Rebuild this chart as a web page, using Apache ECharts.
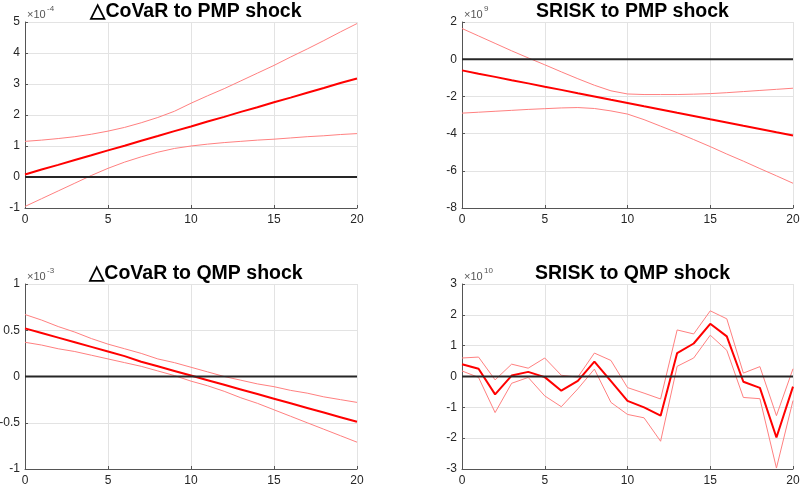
<!DOCTYPE html>
<html>
<head>
<meta charset="utf-8">
<script src="https://cdn.jsdelivr.net/npm/echarts@6/dist/echarts.min.js"></script>
<style>
  html, body { margin: 0; padding: 0; background: #fff; }
  #eCharts { width: 800px; height: 487px; }
</style>
</head>
<body>
<div id="eCharts"></div>
<script>
// horizons (x axis)
var horizons = [0,1,2,3,4,5,6,7,8,9,10,11,12,13,14,15,16,17,18,19,20];

// ΔCoVaR to PMP shock, x1e-4
var covarPmpMean  = [0.08,0.24,0.39,0.55,0.70,0.86,1.01,1.17,1.32,1.48,1.63,1.79,1.94,2.10,2.25,2.41,2.56,2.72,2.87,3.03,3.18];
var covarPmpUpper = [1.15,1.19,1.24,1.30,1.38,1.48,1.60,1.75,1.92,2.12,2.38,2.62,2.85,3.10,3.35,3.60,3.87,4.13,4.40,4.68,4.95];
var covarPmpLower = [-0.95,-0.70,-0.45,-0.20,0.05,0.28,0.48,0.65,0.80,0.92,1.00,1.06,1.11,1.15,1.19,1.22,1.26,1.30,1.33,1.37,1.40];

// SRISK to PMP shock, x1e9
var sriskPmpMean  = [-0.60,-0.78,-0.95,-1.13,-1.30,-1.48,-1.65,-1.83,-2.00,-2.18,-2.35,-2.53,-2.70,-2.88,-3.05,-3.23,-3.40,-3.58,-3.75,-3.93,-4.10];
var sriskPmpUpper = [1.65,1.25,0.85,0.45,0.07,-0.30,-0.68,-1.05,-1.40,-1.70,-1.87,-1.90,-1.90,-1.90,-1.88,-1.85,-1.80,-1.74,-1.68,-1.62,-1.56];
var sriskPmpLower = [-2.90,-2.85,-2.80,-2.75,-2.70,-2.66,-2.62,-2.60,-2.65,-2.78,-2.95,-3.25,-3.60,-3.95,-4.32,-4.70,-5.10,-5.48,-5.88,-6.27,-6.67];

// ΔCoVaR to QMP shock, x1e-3
var covarQmpMean  = [0.52,0.47,0.42,0.37,0.32,0.27,0.22,0.16,0.11,0.06,0.01,-0.04,-0.09,-0.14,-0.19,-0.24,-0.29,-0.34,-0.39,-0.44,-0.49];
var covarQmpUpper = [0.67,0.61,0.54,0.48,0.41,0.35,0.30,0.25,0.19,0.15,0.10,0.05,0.00,-0.04,-0.08,-0.11,-0.15,-0.18,-0.22,-0.25,-0.28];
var covarQmpLower = [0.37,0.34,0.30,0.27,0.23,0.19,0.15,0.11,0.06,0.01,-0.05,-0.10,-0.16,-0.23,-0.29,-0.36,-0.43,-0.50,-0.57,-0.64,-0.71];

// SRISK to QMP shock, x1e10
var sriskQmpMean  = [0.40,0.25,-0.58,0.03,0.15,-0.02,-0.46,-0.14,0.48,-0.15,-0.79,-1.00,-1.27,0.76,1.07,1.71,1.30,-0.17,-0.37,-1.98,-0.33];
var sriskQmpUpper = [0.60,0.63,-0.11,0.40,0.27,0.60,0.04,-0.02,0.76,0.52,-0.36,-0.54,-0.73,1.51,1.38,2.13,1.87,0.11,0.32,-1.27,0.25];
var sriskQmpLower = [0.18,-0.03,-1.17,-0.22,-0.03,-0.63,-0.98,-0.40,0.24,-0.84,-1.23,-1.34,-2.10,0.33,0.60,1.34,0.85,-0.68,-0.72,-2.97,-0.78];

var titles = ['△CoVaR to PMP shock', 'SRISK to PMP shock', '△CoVaR to QMP shock', 'SRISK to QMP shock'];
var exponents = ['-4', '9', '-3', '10'];
var yRanges = [[-1, 5, 1], [-8, 2, 2], [-1, 1, 0.5], [-3, 3, 1]];

var panels = [
    {mean: covarPmpMean, upper: covarPmpUpper, lower: covarPmpLower},
    {mean: sriskPmpMean, upper: sriskPmpUpper, lower: sriskPmpLower},
    {mean: covarQmpMean, upper: covarQmpUpper, lower: covarQmpLower},
    {mean: sriskQmpMean, upper: sriskQmpUpper, lower: sriskQmpLower}
];

var gridPos = [
    {left: 25, top: 22, width: 332, height: 186},
    {left: 462, top: 22, width: 331, height: 186},
    {left: 25, top: 284, width: 332, height: 185},
    {left: 462, top: 284, width: 331, height: 185}
];

var fontFam = 'Liberation Sans, Arial, sans-serif';
var textColor = '#262626';

function pairs(vals) {
    var out = [];
    for (var i = 0; i < horizons.length; i++) {
        out.push([horizons[i], vals[i]]);
    }
    return out;
}

var grids = [], xAxes = [], yAxes = [], series = [], titleList = [], graphics = [];

for (var k = 0; k < 4; k++) {
    var g = gridPos[k];
    grids.push({left: g.left, top: g.top, width: g.width, height: g.height,
                containLabel: false, outerBoundsMode: 'none'});

    xAxes.push({
        type: 'value', gridIndex: k, min: 0, max: 20, interval: 5,
        axisLine: {show: true, onZero: false, lineStyle: {color: '#555', width: 1}},
        axisTick: {show: true, inside: true, length: 3, lineStyle: {color: '#555'}},
        axisLabel: {color: textColor, fontSize: 12, fontFamily: fontFam, margin: 6},
        splitLine: {show: true, lineStyle: {color: '#e3e3e3', width: 1}}
    });
    yAxes.push({
        type: 'value', gridIndex: k, min: yRanges[k][0], max: yRanges[k][1], interval: yRanges[k][2],
        axisLine: {show: true, onZero: false, lineStyle: {color: '#555', width: 1}},
        axisTick: {show: true, inside: true, length: 3, lineStyle: {color: '#555'}},
        axisLabel: {color: textColor, fontSize: 12, fontFamily: fontFam, margin: 5},
        splitLine: {show: true, lineStyle: {color: '#e3e3e3', width: 1}}
    });

    var p = panels[k];
    series.push({
        type: 'line', xAxisIndex: k, yAxisIndex: k, data: pairs(p.upper),
        symbol: 'none', lineStyle: {color: '#ff8080', width: 1}, z: 2, silent: true
    });
    series.push({
        type: 'line', xAxisIndex: k, yAxisIndex: k, data: pairs(p.lower),
        symbol: 'none', lineStyle: {color: '#ff8080', width: 1}, z: 2, silent: true
    });
    series.push({
        type: 'line', xAxisIndex: k, yAxisIndex: k, data: pairs(p.mean),
        symbol: 'none', lineStyle: {color: '#ff0000', width: 2}, z: 3, silent: true
    });
    // zero line
    series.push({
        type: 'line', xAxisIndex: k, yAxisIndex: k, data: [[0, 0], [20, 0]],
        symbol: 'none', lineStyle: {color: '#262626', width: 2}, z: 4, silent: true
    });

    titleList.push({
        text: titles[k],
        left: g.left + g.width / 2,
        textAlign: 'center',
        top: g.top - 25,
        textStyle: {fontSize: 19.5, fontWeight: 'bold', color: '#000', fontFamily: fontFam}
    });

    graphics.push({
        type: 'text', left: g.left + 2, top: g.top - 13,
        style: {text: '×10', fontSize: 11, fill: '#555', fontFamily: fontFam}
    });
    graphics.push({
        type: 'text', left: g.left + 22, top: g.top - 17,
        style: {text: exponents[k], fontSize: 8, fill: '#555', fontFamily: fontFam}
    });
}

var myChart = echarts.init(document.getElementById('eCharts'));
var option = {
    backgroundColor: '#fff',
    animation: false,
    title: titleList,
    grid: grids,
    xAxis: xAxes,
    yAxis: yAxes,
    series: series,
    graphic: graphics
};
myChart.setOption(option);
</script>
</body>
</html>
